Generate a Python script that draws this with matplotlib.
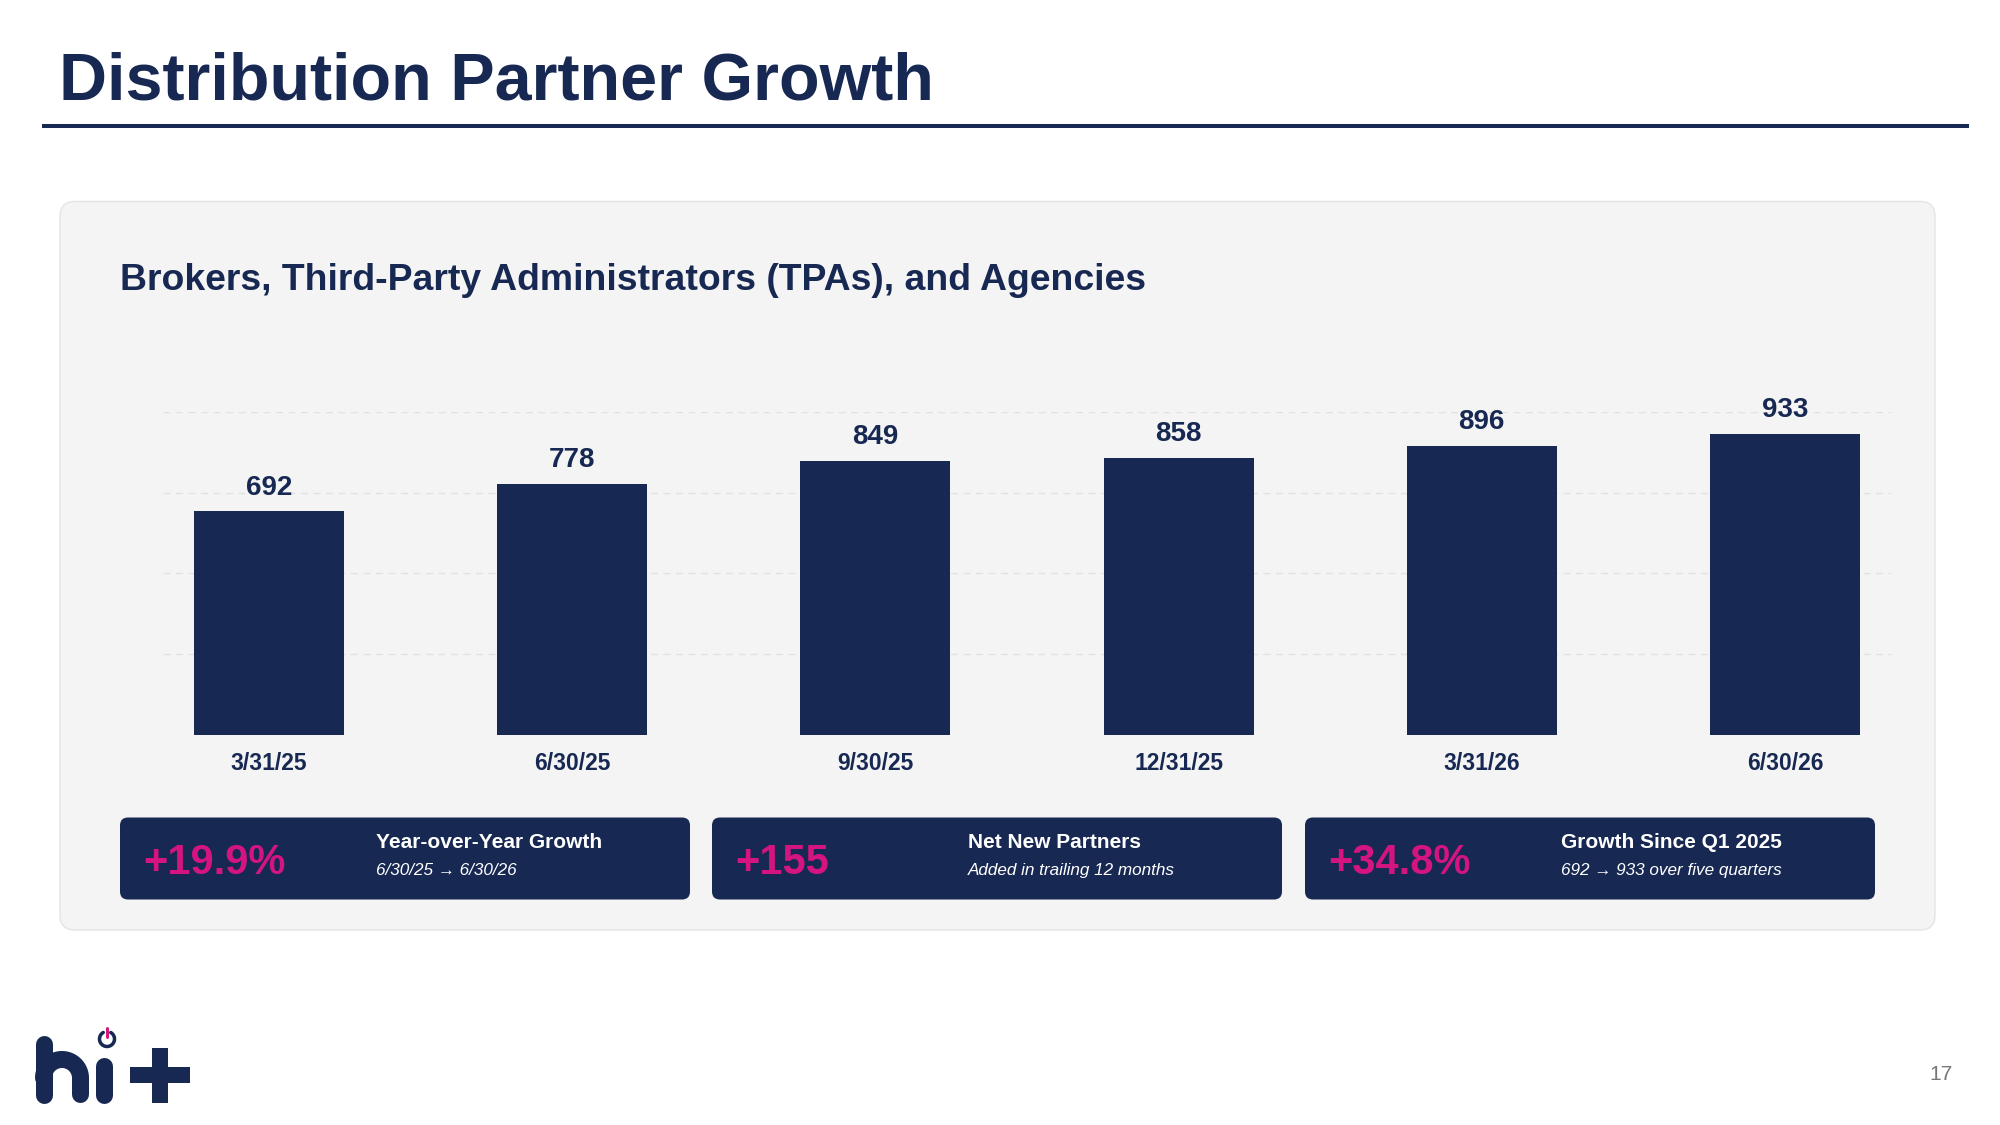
import numpy as np
import matplotlib
matplotlib.use("Agg")
import matplotlib.pyplot as plt
from matplotlib.patches import FancyBboxPatch

plt.rcParams['font.family'] = ['Liberation Sans', 'DejaVu Sans']

# ---- data ----
dates = ["3/31/25", "6/30/25", "9/30/25", "12/31/25", "3/31/26", "6/30/26"]
partners = [692, 778, 849, 858, 896, 933]
grid_ticks = [250, 500, 750, 1000]

card_values = ["+19.9%", "+155", "+34.8%"]
card_titles = ["Year-over-Year Growth", "Net New Partners", "Growth Since Q1 2025"]
card_notes = ["6/30/25 \u2192 6/30/26", "Added in trailing 12 months", "692 \u2192 933 over five quarters"]

title = "Distribution Partner Growth"
subtitle = "Brokers, Third-Party Administrators (TPAs), and Agencies"
page_no = "17"

NAVY = "#172852"
PINK = "#d4157f"
PANEL = "#f4f4f4"

W, H = 2000, 1125
fig = plt.figure(figsize=(20, 11.25), dpi=100)
fig.patch.set_facecolor("white")

# background / decoration axes in pixel coordinates
bg = fig.add_axes([0, 0, 1, 1], zorder=0)
bg.set_xlim(0, W)
bg.set_ylim(H, 0)
bg.axis("off")

# title and rule
bg.text(59, 100, title, fontsize=47.8, fontweight="bold", color=NAVY, va="baseline", ha="left")
bg.plot([42, 1969], [126, 126], color=NAVY, lw=2.9, solid_capstyle="butt")

# panel
panel = FancyBboxPatch((60, 201.5), 1875, 728.5, boxstyle="round,pad=0,rounding_size=15",
                       facecolor=PANEL, edgecolor="#e4e4e4", lw=1.0)
bg.add_patch(panel)
bg.text(120, 290, subtitle, fontsize=26.9, fontweight="bold", color=NAVY, va="baseline", ha="left")

# KPI cards
card_x = [120, 712, 1305]
card_w, card_y, card_h = 570, 817.5, 82
for cx, val, ttl, note in zip(card_x, card_values, card_titles, card_notes):
    bg.add_patch(FancyBboxPatch((cx, card_y), card_w, card_h,
                                boxstyle="round,pad=0,rounding_size=8",
                                facecolor=NAVY, edgecolor="none"))
    bg.text(cx + 23, 874, val, fontsize=30, fontweight="bold", color=PINK,
            va="baseline", ha="left")
    bg.text(cx + 256, 848, ttl, fontsize=15, fontweight="bold", color="white",
            va="baseline", ha="left")
    bg.text(cx + 256, 875, note, fontsize=12.3, style="italic", color="white",
            va="baseline", ha="left")

# page number
bg.text(1953, 1080, page_no, fontsize=15, color="#777777", va="baseline", ha="right")

# logo (hi+)
lw_px = 17 * 0.72
# h stem
bg.plot([43.5, 43.5], [1043.5, 1094.5], color=NAVY, lw=lw_px, solid_capstyle="round")
# h arch + right leg
ang = np.linspace(np.pi, 0, 40)
acx, acy, ar = 62.0, 1078.0, 18.5
arc_x = acx + ar * np.cos(ang)
arc_y = acy - ar * np.sin(ang)
bg.plot(np.r_[arc_x, 80.5], np.r_[arc_y, 1094.5], color=NAVY, lw=lw_px,
        solid_capstyle="round", solid_joinstyle="round")
# i
bg.plot([103.5, 103.5], [1065.5, 1094.5], color=NAVY, lw=lw_px, solid_capstyle="round")
# power icon
pang = np.linspace(np.deg2rad(-240), np.deg2rad(60), 60)
bg.plot(107 + 7.5 * np.cos(pang), 1039 - 7.5 * np.sin(pang), color=NAVY, lw=3.5 * 0.72,
        solid_capstyle="round")
bg.plot([107, 107], [1027.5, 1037], color=PINK, lw=3 * 0.72, solid_capstyle="round")
# plus
bg.plot([160, 160], [1048, 1103], color=NAVY, lw=16 * 0.72, solid_capstyle="butt")
bg.plot([130, 190], [1075, 1075], color=NAVY, lw=16 * 0.72, solid_capstyle="butt")

# ---- chart axes ----
ax_l, ax_r, ax_t, ax_b = 163, 1891, 412, 734.5
ax = fig.add_axes([ax_l / W, 1 - ax_b / H, (ax_r - ax_l) / W, (ax_b - ax_t) / H], zorder=2)
ax.set_facecolor("none")
x = np.arange(len(dates))
bars = ax.bar(x, partners, width=0.495, color=NAVY, zorder=3)
ax.set_xlim(-0.35, len(dates) - 1 + 0.35)
ax.set_ylim(0, 1000)
ax.set_yticks(grid_ticks)
ax.yaxis.grid(True, color="#e2e2e2", lw=1.0, ls=(0, (5, 4)), zorder=0)
ax.tick_params(axis="y", length=0, labelleft=False)
ax.set_xticks(x)
ax.set_xticklabels(dates, fontsize=16.5, fontweight="bold", color=NAVY)
ax.tick_params(axis="x", length=0, pad=12.8)
for s in ax.spines.values():
    s.set_visible(False)

for xi, v in zip(x, partners):
    ax.annotate(f"{v}", (xi, v), xytext=(0, 12), textcoords="offset points",
                ha="center", va="baseline", fontsize=20, fontweight="bold",
                color=NAVY, annotation_clip=False)

fig.savefig("out.png", dpi=100, facecolor="white")
